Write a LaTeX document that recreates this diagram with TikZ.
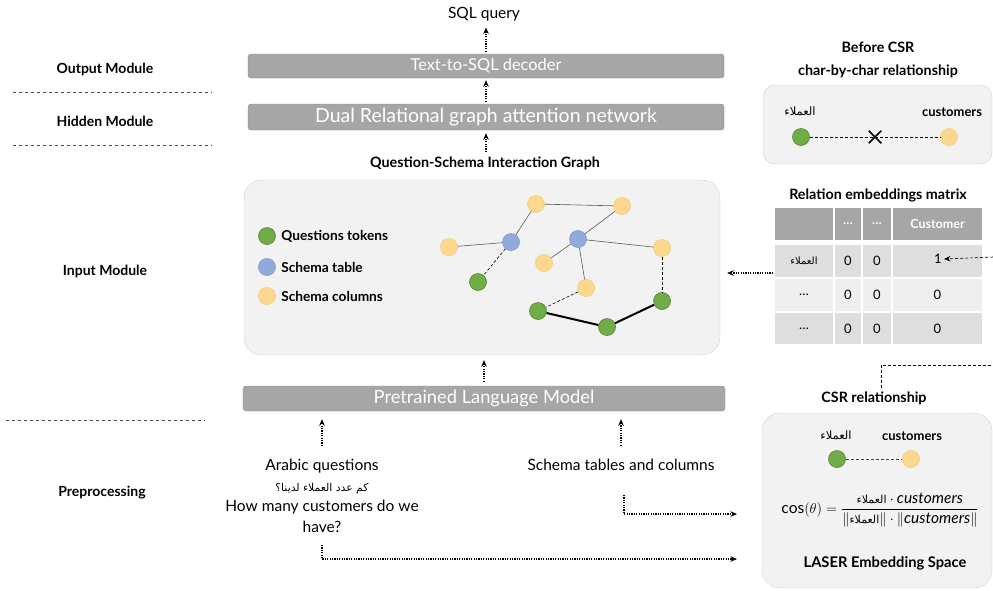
\documentclass[tikz,border=0pt]{standalone}
\usepackage{amsmath}
\usepackage{fontspec}
\setmainfont{Lato}
\newfontfamily\arabicfont[Script=Arabic]{DejaVu Sans}
\TeXXeTstate=1
\usepackage{tikz}
\usetikzlibrary{positioning, arrows}
\usetikzlibrary{arrows.meta, shapes.misc}

\definecolor{boxgray}{HTML}{A6A6A6}
\definecolor{boxedge}{HTML}{8C8C8C}
\definecolor{panelfill}{HTML}{F2F2F2}
\definecolor{paneledge}{HTML}{D2D2D2}
\definecolor{qgreen}{HTML}{70AD47}
\definecolor{qgreenedge}{HTML}{548235}
\definecolor{sblue}{HTML}{8FAADC}
\definecolor{sblueedge}{HTML}{7F96C8}
\definecolor{cyellow}{HTML}{FBD88E}
\definecolor{cyellowedge}{HTML}{F3CB74}
\definecolor{rowdark}{HTML}{DEDEDE}
\definecolor{rowlight}{HTML}{EFEFEF}
\definecolor{navy}{HTML}{2F3E6B}

\newcommand{\arword}[1]{{\arabicfont\beginR #1\endR}}
\newcommand{\fsz}[1]{\fontsize{#1}{#1}\selectfont}

\begin{document}
\begin{tikzpicture}[x=1pt, y=-1pt, >={Stealth[length=6.5pt, width=5.5pt]},
    layer/.style={draw=boxedge, fill=boxgray, rounded corners=3pt, text=white, inner sep=0pt},
    flow/.style={->, line width=1.3pt, dash pattern=on 1.2pt off 1.2pt},
    link/.style={line width=0.6pt, dash pattern=on 3pt off 2pt},
    sep/.style={line width=0.5pt, dash pattern=on 3pt off 3pt, black!70},
    panel/.style={draw=paneledge, fill=panelfill, rounded corners=18pt, inner sep=0pt},
    gnode/.style={circle, minimum size=17pt, inner sep=0pt, line width=0.6pt},
    qtok/.style={gnode, fill=qgreen, draw=qgreenedge},
    stab/.style={gnode, fill=sblue, draw=sblueedge},
    scol/.style={gnode, fill=cyellow, draw=cyellowedge},
    modlbl/.style={font=\fsz{14}\bfseries},
    head/.style={font=\fsz{14.3}\bfseries},
    plain/.style={font=\fsz{15.5}},
    cell/.style={inner sep=0pt, minimum height=32pt}]

    \useasboundingbox (0,0) rectangle (993,590);

    % Define nodes
    \node[font=\fsz{15.5}] (sql) at (484,14) {SQL query};
    \node[layer, minimum width=476pt, minimum height=24pt, font=\fsz{16.4}] (dec) at (486,66) {Text-to-SQL decoder};
    \node[layer, minimum width=476pt, minimum height=26pt, font=\fsz{19.5}] (dual) at (486,117) {Dual Relational graph attention network};
    \node[head] (qsig) at (485,163) {Question-Schema Interaction Graph};
    \node[panel, minimum width=476pt, minimum height=175pt] (graph) at (482,267.5) {};
    \node[layer, minimum width=482pt, minimum height=25pt, font=\fsz{18.3}] (plm) at (484,398.5) {Pretrained Language Model};

    % Module labels
    \node[modlbl] (outm) at (105,69) {Output Module};
    \node[modlbl] (hidm) at (105,121) {Hidden Module};
    \node[modlbl] (inm) at (105,271) {Input Module};
    \node[modlbl] (prem) at (102,493) {Preprocessing};
    \draw[sep] (13,92) -- (212,92);
    \draw[sep] (13,145) -- (212,145);
    \draw[sep] (6,420) -- (205,420);

    % Legend
    \node[qtok] (lq) at (267,236) {};
    \node[stab] (lb) at (267,267) {};
    \node[scol] (ly) at (267,296) {};
    \node[head, anchor=west, font=\fsz{13.7}\bfseries] at ([xshift=2pt]lq.east) {Questions tokens};
    \node[head, anchor=west, font=\fsz{13.7}\bfseries] at ([xshift=2pt]lb.east) {Schema table};
    \node[head, anchor=west, font=\fsz{13.7}\bfseries] at ([xshift=2pt]ly.east) {Schema columns};

    % Graph nodes
    \node[scol] (y1) at (536,204) {};
    \node[scol] (y2) at (622,206) {};
    \node[stab] (b1) at (511,242) {};
    \node[stab] (b2) at (578,239) {};
    \node[scol] (y3) at (449,247) {};
    \node[scol] (y4) at (662,248) {};
    \node[scol] (y5) at (544,263) {};
    \node[qtok] (g1) at (478,282) {};
    \node[scol] (y6) at (586,288) {};
    \node[qtok] (g2) at (538,311) {};
    \node[qtok] (g3) at (607,327) {};
    \node[qtok] (g4) at (662,301) {};

    % Graph edges
    \draw[black!65, line width=0.6pt] (y3) -- (b1) -- (y1) -- (y2) -- (b2) -- (y4);
    \draw[black!65, line width=0.6pt] (b2) -- (y5);
    \draw[black!65, line width=0.6pt] (b2) -- (y6);
    \draw[link] (b1) -- (g1);
    \draw[link] (y6) -- (g2);
    \draw[link] (y4) -- (g4);
    \draw[line width=2pt] (g2) -- (g3) -- (g4);

    % Inputs
    \node[font=\fontsize{15.5}{20.5}\selectfont, align=center] (arq) at (322,496) {Arabic questions\\ {\fsz{10.8}\arword{كم عدد العملاء لدينا؟}}\\ How many customers do we\\ have?};
    \node[plain] (sch) at (621,465) {Schema tables and columns};
    \coordinate (s1) at (624,495);
    \coordinate (e1) at (737,514);
    \coordinate (q1) at (322,545);
    \coordinate (e2) at (737,559);

    % Before CSR
    \node[head] (bcsr) at (878,47) {Before CSR};
    \node[head] (cbc) at (878,71) {char-by-char relationship};
    \node[panel, rounded corners=12pt, minimum width=229pt, minimum height=79pt] (bbox) at (877.5,124.5) {};
    \node[font=\fsz{11.5}] at (800,111) {\arword{العملاء}};
    \node[head, font=\fsz{13}\bfseries] at (952,112) {customers};
    \node[qtok] (bg) at (801,137) {};
    \node[scol] (by) at (949,137) {};
    \draw[link] (bg) -- (by) node[midway, cross out, draw, solid, line width=1.5pt, minimum size=11pt, inner sep=0pt] (nox) {};

    % Relation embeddings matrix
    \node[head] (rem) at (878,195) {Relation embeddings matrix};
    \foreach \cx/\cw/\ta/\tb [count=\c from 0] in {804/58/{}/{\fsz{10}\arword{العملاء}}, 848/26/{\dots}/0, 877/28/{\dots}/0, 937.5/89/{Customer}/{}} {
        \node[cell, fill=boxgray, minimum width=\cw pt, text=white, font=\fsz{12.5}\bfseries] (h\c) at (\cx,224) {\ta};
        \node[cell, fill=rowdark, minimum width=\cw pt, font=\fsz{13}] (ra\c) at (\cx,261) {\tb};
    }
    \foreach \cx/\cw/\tc [count=\c from 0] in {804/58/{\dots}, 848/26/0, 877/28/0, 937.5/89/0} {
        \node[cell, fill=rowlight, minimum width=\cw pt, font=\fsz{13}] (rb\c) at (\cx,295) {\tc};
        \node[cell, fill=rowdark, minimum width=\cw pt, minimum height=31pt, font=\fsz{13}] (rc\c) at (\cx,328.5) {\tc};
    }
    \node[font=\fsz{13}, inner sep=2pt] (one) at (938,259) {1};

    % CSR relationship
    \node[head] (csrl) at (874,398) {CSR relationship};
    \node[panel, minimum width=230pt, minimum height=175pt] (cbox) at (877,500.5) {};
    \node[font=\fsz{11.5}] at (836,435) {\arword{العملاء}};
    \node[head, font=\fsz{13}\bfseries] at (912,436) {customers};
    \node[qtok] (cg) at (837,459) {};
    \node[scol] (cy) at (911,459) {};
    \draw[navy, line width=1pt, dash pattern=on 3pt off 2pt] (cg) -- (cy);
    \node[font=\fsz{15.5}] (cosf) at (880,510) {$\cos(\theta) = \dfrac{\mbox{\fsz{11}\arword{العملاء}} \cdot \mathit{customers}}{\left\|\mbox{\fsz{11}\arword{العملاء}}\right\| \cdot \|\mathit{customers}\|}$};
    \node[head, font=\fsz{14.7}\bfseries] (laser) at (885,563) {LASER Embedding Space};
    \coordinate (edgea) at (993,365);
    \coordinate (edgeb) at (993,257);
    \coordinate (m1) at (773,273);

    % Draw edges with arrows
    \draw[flow, shorten <=2pt, shorten >=3pt] (dec.north) -- (sql.south -| dec.north);
    \draw[flow, shorten <=2pt, shorten >=2pt] (dual.north) -- (dec.south);
    \draw[flow, shorten <=1pt, shorten >=3pt] (qsig.north -| dual.south) -- (dual.south);
    \draw[flow, shorten <=4pt, shorten >=5pt] (plm.north) -- (graph.south -| plm.north);
    \draw[flow, shorten <=10pt, shorten >=8pt] (arq.north) -- (arq.north |- plm.south);
    \draw[flow, shorten <=10pt, shorten >=8pt] (sch.north) -- (sch.north |- plm.south);
    \draw[flow] (s1) |- (e1);
    \draw[flow] (q1) |- (e2);
    \draw[flow, shorten >=7pt] (m1) -- (graph.east |- m1);
    \draw[link] ([xshift=7pt]csrl.north) |- (edgea);
    \draw[link, ->] (edgeb) -- (one.east);

\end{tikzpicture}
\end{document}
